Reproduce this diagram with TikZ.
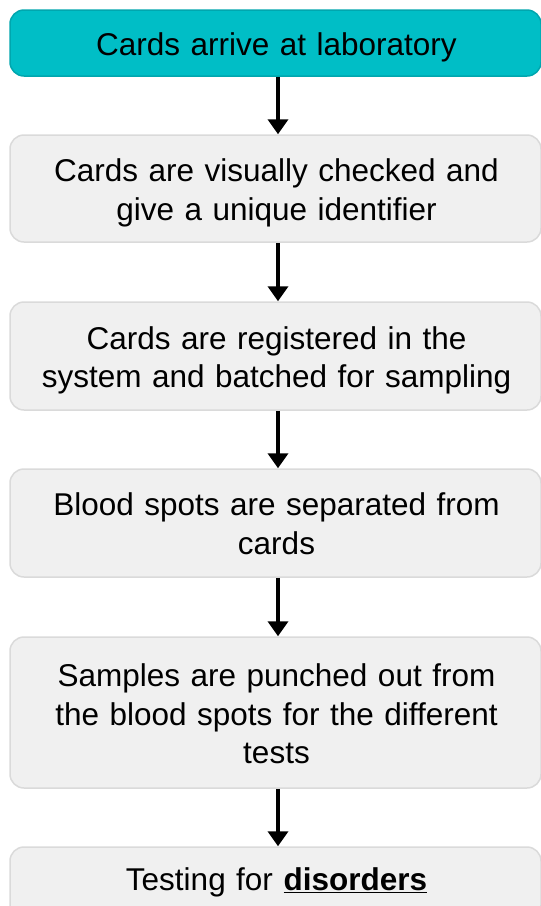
\documentclass[tikz,border=0pt]{standalone}
\usepackage{fontspec}
\setmainfont{Liberation Sans}
\usetikzlibrary{arrows.meta}
\definecolor{teal1}{HTML}{00BEC6}
\definecolor{teal2}{HTML}{00A6AE}
\definecolor{boxfill}{HTML}{F0F0F0}
\definecolor{boxline}{HTML}{DADADA}
\tikzset{
  stepbox/.style={draw=boxline, line width=1.5pt, fill=boxfill, rounded corners=14pt, minimum width=531pt, inner sep=0pt},
  topbox/.style={stepbox, draw=teal2, fill=teal1},
  steptext/.style={align=center, inner sep=0pt, font=\fontsize{31.5}{38.5}\selectfont, text width=525pt},
  flow/.style={line width=4pt, -{Triangle[width=20pt,length=15pt]}},
}
\begin{document}
\begin{tikzpicture}[x=1pt,y=-1pt]
\useasboundingbox (0,0) rectangle (541,906);
\clip (0,0) rectangle (541,906);
\node[topbox, minimum height=66pt] (n1) at (275.5,43) {};
\node[stepbox, minimum height=107pt] (n2) at (275.5,188.5) {};
\node[stepbox, minimum height=108pt] (n3) at (275.5,356) {};
\node[stepbox, minimum height=108pt] (n4) at (275.5,523) {};
\node[stepbox, minimum height=151pt] (n5) at (275.5,712.5) {};
\node[stepbox, minimum height=72pt] (n6) at (275.5,883) {};
\node[steptext] (t1) at ([xshift=1pt,yshift=-4.5pt]n1.center) {Cards arrive at laboratory};
\node[steptext] (t2) at ([xshift=1pt,yshift=-4.5pt]n2.center) {Cards are visually checked and\\give a unique identifier};
\node[steptext] (t3) at ([xshift=1pt,yshift=-4.5pt]n3.center) {Cards are registered in the\\system and batched for sampling};
\node[steptext] (t4) at ([xshift=1pt,yshift=-0.5pt]n4.center) {Blood spots are separated from\\cards};
\node[steptext] (t5) at ([xshift=1pt,yshift=-1.5pt]n5.center) {Samples are punched out from\\the blood spots for the different\\tests};
\node[steptext] (t6) at ([xshift=1pt,yshift=0.5pt]n6.center) {Testing for \underline{\textbf{disorders}}};
\draw[flow] ([xshift=2.5pt]n1.south) -- ([xshift=2.5pt]n2.north);
\draw[flow] ([xshift=2.5pt]n2.south) -- ([xshift=2.5pt]n3.north);
\draw[flow] ([xshift=2.5pt]n3.south) -- ([xshift=2.5pt]n4.north);
\draw[flow] ([xshift=2.5pt]n4.south) -- ([xshift=2.5pt]n5.north);
\draw[flow] ([xshift=2.5pt]n5.south) -- ([xshift=2.5pt]n6.north);
\end{tikzpicture}
\end{document}
